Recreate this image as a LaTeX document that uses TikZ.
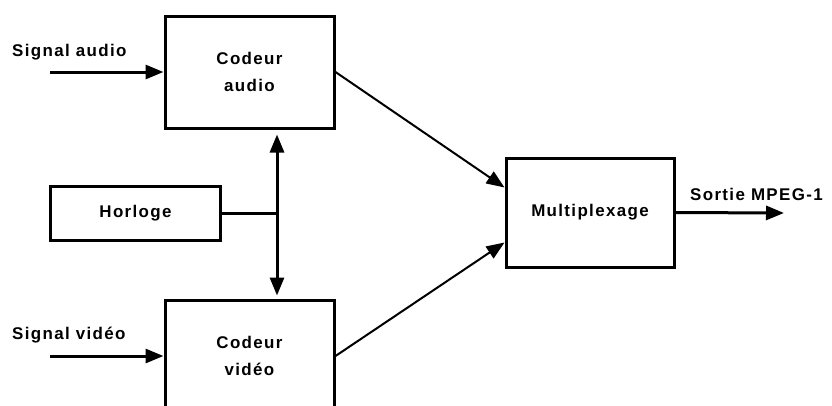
\documentclass[tikz,border=0pt]{standalone}
\usepackage{fontspec}
\setmainfont{Liberation Sans}[LetterSpace=8]
\usetikzlibrary{arrows.meta}
\begin{document}
\begin{tikzpicture}[x=1bp,y=-1bp,
  every node/.style={font=\fontsize{17}{27}\selectfont\bfseries},
  block/.style={draw,line width=3bp,inner sep=0pt,align=center},
  tip/.style={-{Triangle[length=18bp,width=14bp]}},
  thick line/.style={line width=3bp},
  thin line/.style={line width=2bp}]
\useasboundingbox (0,0) rectangle (832,405);
\clip (0,0) rectangle (832,405);

% blocks
\node[block,minimum width=169bp,minimum height=112bp] (ca) at (249.5,72) {Codeur\\audio};
\node[block,minimum width=169bp,minimum height=112bp] (cv) at (249.5,356) {Codeur\\vidéo};
\node[block,minimum width=169bp,minimum height=54bp] (hl) at (135.5,213) {Horloge};
\node[block,minimum width=168bp,minimum height=109bp] (mx) at (590,212.5) {Multiplexage};

% input / output labels
\node[anchor=base west,inner sep=0pt] (lsa) at (12,56) {Signal audio};
\node[anchor=base west,inner sep=0pt] (lsv) at (12,339) {Signal vidéo};
\node[anchor=base west,inner sep=0pt] (lout) at (690,200) {Sortie MPEG-1};

% free ends of the signal lines
\coordinate (ain) at (50,72);
\coordinate (vin) at (50,356);
\coordinate (out) at (784,213);
\coordinate (jn) at (277,213);

% signal inputs
\draw[thick line,tip] (ain) -- (ca);
\draw[thick line,tip] (vin) -- (cv);

% clock distribution
\draw[thick line] (hl.east) -- (jn);
\draw[thick line,{Triangle[length=18bp,width=14bp]}-{Triangle[length=18bp,width=14bp]}]
  ([yshift=-5bp]ca.south -| jn) -- ([yshift=3bp]cv.north -| jn);

% coders to multiplexer
\draw[thin line,tip] (ca.east) -- ([yshift=25bp]mx.west);
\draw[thin line,tip] (cv.east) -- ([yshift=-30bp]mx.west);

% output
\draw[thick line,tip] (mx.east) -- (out);
\end{tikzpicture}
\end{document}
